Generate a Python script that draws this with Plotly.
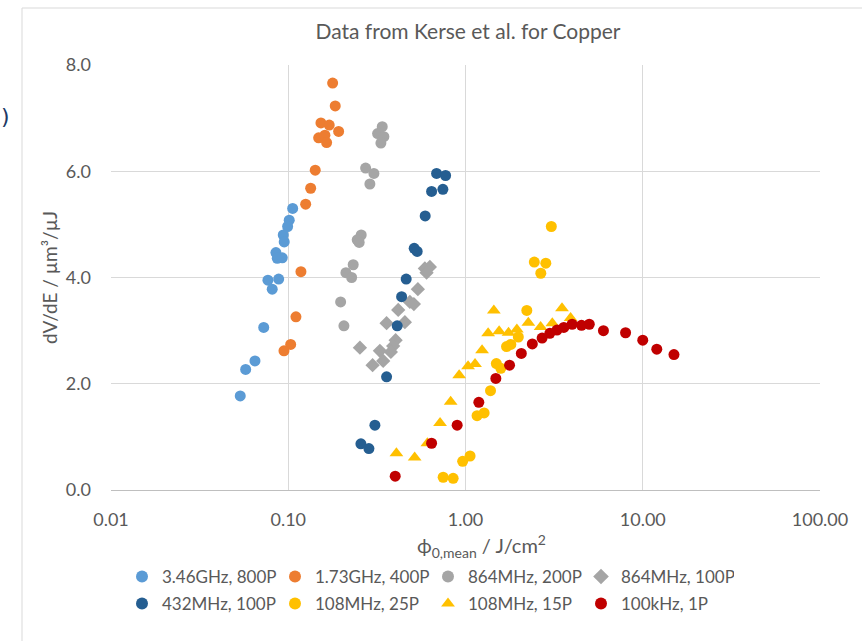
import plotly.graph_objects as go

# ---- data (x: fluence phi0,mean in J/cm^2, y: dV/dE in um^3/uJ) ----
s1_name = "3.46GHz, 800P"
s1_x = [0.1059, 0.1013, 0.0992, 0.0937, 0.0949, 0.0852, 0.0867, 0.0925, 0.0768, 0.0883, 0.0812, 0.0727, 0.0649, 0.0575, 0.0536]
s1_y = [5.30, 5.08, 4.96, 4.80, 4.67, 4.47, 4.36, 4.37, 3.95, 3.97, 3.78, 3.06, 2.43, 2.27, 1.77]

s2_name = "1.73GHz, 400P"
s2_x = [0.178, 0.1841, 0.1529, 0.1703, 0.1924, 0.1484, 0.1610, 0.1646, 0.1420, 0.1338, 0.1254, 0.1179, 0.1105, 0.1032, 0.0946]
s2_y = [7.66, 7.23, 6.91, 6.87, 6.75, 6.63, 6.68, 6.54, 6.02, 5.68, 5.38, 4.11, 3.26, 2.74, 2.62]

s3_name = "864MHz, 200P"
s3_x = [0.339, 0.3192, 0.3464, 0.3332, 0.2732, 0.3042, 0.2888, 0.2580, 0.2449, 0.2513, 0.2325, 0.2115, 0.2278, 0.1975, 0.2061]
s3_y = [6.84, 6.71, 6.65, 6.53, 6.06, 5.96, 5.76, 4.80, 4.71, 4.66, 4.24, 4.09, 4.00, 3.54, 3.09]

s4_name = "864MHz, 100P"
s4_x = [0.6295, 0.5899, 0.6031, 0.5386, 0.4856, 0.5114, 0.4172, 0.4550, 0.3587, 0.4034, 0.3908, 0.3793, 0.3289, 0.3433, 0.2991, 0.2537]
s4_y = [4.20, 4.17, 4.09, 3.78, 3.54, 3.50, 3.39, 3.16, 3.14, 2.82, 2.71, 2.60, 2.62, 2.43, 2.35, 2.68]

s5_name = "432MHz, 100P"
s5_x = [0.6868, 0.7720, 0.6436, 0.7455, 0.5923, 0.5134, 0.5338, 0.4628, 0.4360, 0.4118, 0.3587, 0.3082, 0.2570, 0.2851]
s5_y = [5.96, 5.92, 5.62, 5.66, 5.16, 4.55, 4.49, 3.97, 3.64, 3.09, 2.13, 1.22, 0.87, 0.78]

s6_name = "108MHz, 25P"
s6_x = [3.049, 2.444, 2.839, 2.660, 2.218, 1.986, 1.802, 1.704, 1.493, 1.582, 1.384, 1.162, 1.274, 0.9637, 1.061, 0.7482, 0.8518]
s6_y = [4.96, 4.29, 4.27, 4.08, 3.38, 2.88, 2.74, 2.70, 2.38, 2.29, 1.87, 1.40, 1.45, 0.54, 0.64, 0.24, 0.22]

s7_name = "108MHz, 15P"
s7_x = [1.445, 1.342, 1.548, 1.749, 1.949, 2.262, 2.653, 3.088, 3.503, 3.916, 1.240, 1.034, 1.132, 0.921, 0.8247, 0.7186, 0.6093, 0.5167, 0.4076]
s7_y = [3.38, 2.95, 2.99, 2.96, 3.02, 3.15, 3.07, 3.14, 3.42, 3.24, 2.63, 2.33, 2.37, 2.16, 1.66, 1.26, 0.88, 0.61, 0.69]

s8_name = "100kHz, 1P"
s8_x = [0.4012, 0.6436, 0.8973, 1.189, 1.483, 1.772, 2.065, 2.382, 2.705, 2.990, 3.282, 3.586, 3.994, 4.512, 4.993, 6.0, 8.0, 10.0, 12.0, 15.0]
s8_y = [0.26, 0.88, 1.22, 1.65, 2.10, 2.35, 2.57, 2.75, 2.86, 2.95, 3.01, 3.06, 3.12, 3.10, 3.12, 3.00, 2.96, 2.82, 2.65, 2.55]

x_tickvals = [0.01, 0.1, 1, 10, 100]
x_ticktext = ["0.01", "0.10", "1.00", "10.00", "100.00"]
y_tickvals = [0, 2, 4, 6, 8]
y_ticktext = ["0.0", "2.0", "4.0", "6.0", "8.0"]

FONT = "Lato"
TXT = "#595959"

series = [
    (s1_name, s1_x, s1_y, "#5B9BD5", "circle", "legend"),
    (s2_name, s2_x, s2_y, "#ED7D31", "circle", "legend"),
    (s3_name, s3_x, s3_y, "#A5A5A5", "circle", "legend"),
    (s4_name, s4_x, s4_y, "#A5A5A5", "diamond", "legend"),
    (s5_name, s5_x, s5_y, "#255E91", "circle", "legend2"),
    (s6_name, s6_x, s6_y, "#FFC000", "circle", "legend2"),
    (s7_name, s7_x, s7_y, "#FFC000", "triangle-up", "legend2"),
    (s8_name, s8_x, s8_y, "#C00000", "circle", "legend2"),
]

fig = go.Figure()
for name, xs, ys, col, sym, leg in series:
    size = 12 if sym == "triangle-up" else 11
    fig.add_trace(go.Scatter(
        x=xs, y=ys, mode="markers", name=name, legend=leg,
        marker=dict(color=col, symbol=sym, size=size, line=dict(width=0)),
    ))

legend_common = dict(
    orientation="h", xanchor="left", yanchor="middle",
    font=dict(family=FONT, size=17, color=TXT),
    bgcolor="rgba(0,0,0,0)", itemwidth=30, entrywidth=108,
    tracegroupgap=0, itemsizing="constant",
)

LEG_X = 122

fig.update_layout(
    width=862, height=641,
    margin=dict(l=111, r=42, t=65, b=151),
    paper_bgcolor="white", plot_bgcolor="white",
    font=dict(family=FONT, color=TXT),
    title=dict(text="Data from Kerse et al. for Copper", x=(468 - 111) / 709, xref="paper",
               xanchor="center", y=1 - 32 / 641, yanchor="middle",
               font=dict(family=FONT, size=21, color=TXT)),
    xaxis=dict(type="log", range=[-2, 2], tickvals=x_tickvals, ticktext=x_ticktext,
               showgrid=True, gridcolor="#D9D9D9", gridwidth=1,
               showline=True, linecolor="#BFBFBF", linewidth=1, mirror=False,
               ticks="", ticklabelstandoff=13, tickfont=dict(family=FONT, size=18, color=TXT),
               zeroline=False),
    yaxis=dict(range=[0, 8], tickvals=y_tickvals, ticktext=y_ticktext,
               showgrid=True, gridcolor="#D9D9D9", gridwidth=1,
               showline=False, ticks="", ticklabelstandoff=19,
               tickfont=dict(family=FONT, size=18, color=TXT),
               title=dict(text="dV/dE / µm³/µJ", standoff=3,
                          font=dict(family=FONT, size=19, color=TXT)),
               zeroline=False),
    legend=dict(x=(LEG_X - 111) / 709, y=(490 - 577) / 425, **legend_common),
    legend2=dict(x=(LEG_X - 111) / 709, y=(490 - 604) / 425, **legend_common),
    shapes=[
        dict(type="rect", xref="paper", yref="paper",
             x0=(22 - 111) / 709, x1=1.2, y0=-0.5, y1=(490 - 8) / 425,
             line=dict(color="#D9D9D9", width=1), fillcolor="rgba(0,0,0,0)", layer="below"),
    ],
    annotations=[
        dict(text=")", xref="paper", yref="paper", x=(5 - 111) / 709, y=(490 - 116) / 425,
             xanchor="center", yanchor="middle", showarrow=False,
             font=dict(family="DejaVu Sans", size=22, color="#203864")),
        dict(text="ϕ<sub>0,mean</sub> / J/cm<sup>2</sup>", xref="paper", yref="paper",
             x=(481 - 111) / 709, y=(490 - 546) / 425, xanchor="center", yanchor="middle",
             showarrow=False, font=dict(family=FONT, size=20, color=TXT)),
    ],
)

fig.write_html("out.html")
